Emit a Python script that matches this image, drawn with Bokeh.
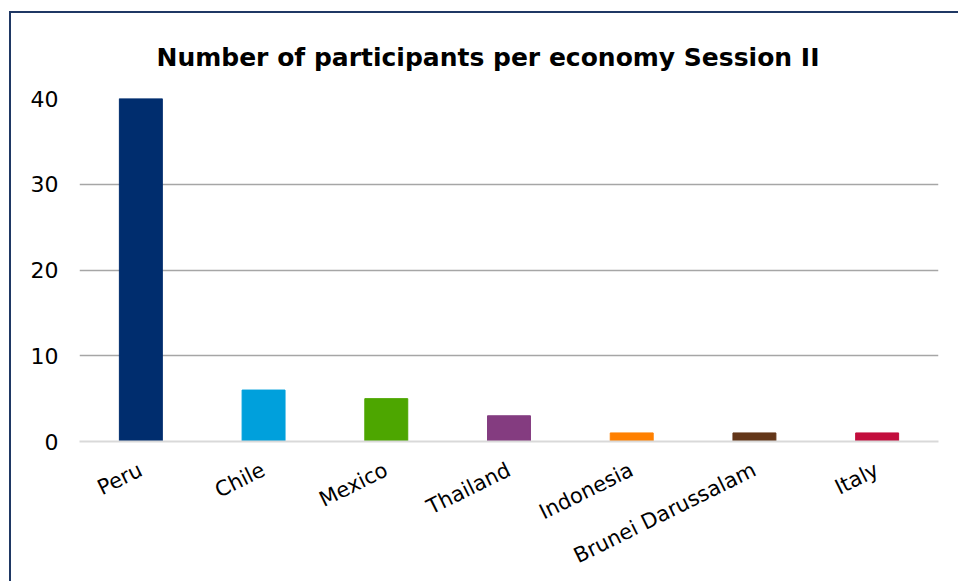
from bokeh.plotting import figure
from bokeh.models import ColumnDataSource, FixedTicker, Title
from bokeh.embed import file_html
from bokeh.resources import INLINE

countries = ["Peru", "Chile", "Mexico", "Thailand", "Indonesia", "Brunei Darussalam", "Italy"]
participants = [40, 6, 5, 3, 1, 1, 1]
bar_colors = ["#002D6E", "#00A0DC", "#4DA600", "#843C80", "#FF8000", "#633619", "#C20E3D"]
y_ticks = [0, 10, 20, 30, 40]
title_text = "Number of participants per economy Session II"

src = ColumnDataSource(dict(x=countries, top=participants, color=bar_colors))

p = figure(x_range=countries, y_range=(0, 40), width=949, height=570,
           output_backend="svg", toolbar_location=None,
           min_border_left=68, min_border_right=22, min_border_top=85, min_border_bottom=142)
p.margin = (11, 0, 0, 9)
p.styles = {"border-top": "2px solid #1F3864", "border-left": "2px solid #1F3864",
            "box-sizing": "border-box"}

t = Title(text=title_text, align="left", text_font="DejaVu Sans", text_font_size="25px",
          text_font_style="bold", text_color="#000000", offset=77, standoff=54)
p.add_layout(t, "above")

p.vbar(x="x", top="top", width=0.35, color="color", source=src)

p.outline_line_color = None
p.background_fill_color = "white"
p.border_fill_color = "white"

p.yaxis.ticker = FixedTicker(ticks=y_ticks)
p.yaxis.axis_line_color = None
p.yaxis.major_tick_line_color = None
p.yaxis.minor_tick_line_color = None
p.yaxis.major_tick_out = 0
p.yaxis.major_tick_in = 0
p.yaxis.major_label_text_font = "DejaVu Sans"
p.yaxis.major_label_text_font_size = "22px"
p.yaxis.major_label_text_color = "#000000"
p.yaxis.major_label_standoff = 21

p.xaxis.axis_line_color = "#D9D9D9"
p.xaxis.axis_line_width = 2
p.xaxis.major_tick_line_color = None
p.xaxis.minor_tick_line_color = None
p.xaxis.major_tick_out = 0
p.xaxis.major_tick_in = 0
p.xaxis.major_label_orientation = 0.46
p.xaxis.major_label_text_font = "DejaVu Sans"
p.xaxis.major_label_text_font_size = "21px"
p.xaxis.major_label_text_color = "#000000"
p.xaxis.major_label_standoff = 27

p.xgrid.grid_line_color = None
p.ygrid.grid_line_color = "#A6A6A6"
p.ygrid.grid_line_width = 1.5

open("out.html", "w").write(file_html(p, INLINE))
